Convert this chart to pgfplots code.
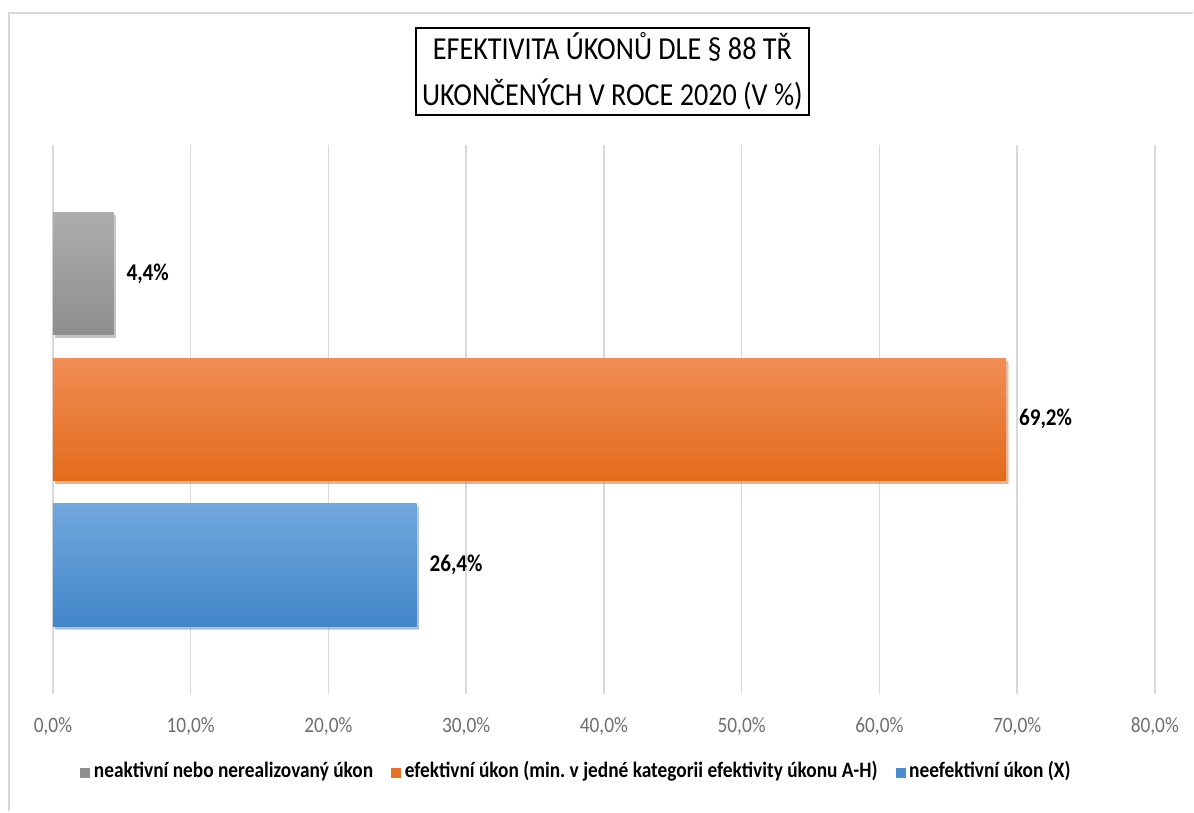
\documentclass[border=0pt]{standalone}
\usepackage{fontspec}
\setmainfont{Carlito}[FakeStretch=0.88]
\usepackage{pgfplots}
\pgfplotsset{compat=1.18}
\usetikzlibrary{shadows}

\definecolor{grayT}{HTML}{ADADAD}
\definecolor{grayB}{HTML}{8E8E8E}
\definecolor{orT}{HTML}{F18D55}
\definecolor{orB}{HTML}{E26B1A}
\definecolor{blT}{HTML}{70A7DD}
\definecolor{blB}{HTML}{4386C9}
\definecolor{gridc}{HTML}{D9D9D9}
\definecolor{tickc}{HTML}{6E6E6E}

\begin{document}
\begin{tikzpicture}
% page frame (1px = 0.5pt)
\path (0,0) rectangle (597pt,406pt);
\draw[gray!30, line width=1.2pt] (4.5pt,0) -- (4.5pt,399.5pt) -- (597pt,399.5pt);

\begin{axis}[
    at={(26.5pt,58.5pt)}, anchor=south west,
    scale only axis,
    width=551.5pt, height=275pt,
    xmin=0, xmax=80,
    ymin=0.113, ymax=3.884,
    xtick={0,10,...,80},
    ytick=\empty,
    axis line style={draw=none},
    major tick length=0pt,
    xmajorgrids=true,
    grid style={gridc, line width=0.8pt},
    xticklabel={\pgfmathprintnumber[fixed,fixed zerofill,precision=1,use comma]{\tick}\%},
    /pgf/number format/assume math mode=true,
    xticklabel style={font=\fontsize{11}{13}\selectfont, text=tickc, yshift=-8pt},
    xbar, bar shift=0pt, bar width=0.84,
    nodes near coords={\pgfmathprintnumber[fixed,fixed zerofill,precision=1,use comma]{\pgfplotspointmeta}\%},
    every node near coord/.append style={font=\bfseries\fontsize{12}{14}\selectfont, text=black, xshift=3pt},
]
\addplot[draw=none, top color=grayT, bottom color=grayB,
    drop shadow={shadow xshift=1.2pt, shadow yshift=-1.5pt, opacity=0.3}]
    coordinates {(4.4,3)};
\addplot[draw=none, top color=orT, bottom color=orB,
    drop shadow={shadow xshift=1.2pt, shadow yshift=-1.5pt, opacity=0.3}]
    coordinates {(69.2,2)};
\addplot[draw=none, top color=blT, bottom color=blB,
    drop shadow={shadow xshift=1.2pt, shadow yshift=-1.5pt, opacity=0.3}]
    coordinates {(26.4,1)};
\end{axis}

\node[draw=black, line width=1pt, minimum width=196.5pt, minimum height=43.5pt,
      align=center, font=\fontsize{16}{23}\selectfont, inner sep=0pt]
    at (306.5pt,370.25pt)
    {EFEKTIVITA ÚKONŮ DLE § 88 TŘ\\UKONČENÝCH V ROCE 2020 (V \%)};

% legend
\node[anchor=center, font=\bfseries\fontsize{11}{13}\selectfont, inner sep=0pt] at (288pt,20pt) {%
  \textcolor{grayB}{\rule{5pt}{5pt}}\,neaktivní nebo nerealizovaný úkon\hspace{9pt}%
  \textcolor{orB!80!orT}{\rule{5pt}{5pt}}\,efektivní úkon (min.\ v jedné kategorii efektivity úkonu A-H)\hspace{9pt}%
  \textcolor{blB!80!blT}{\rule{5pt}{5pt}}\,neefektivní úkon (X)};
\end{tikzpicture}
\end{document}
